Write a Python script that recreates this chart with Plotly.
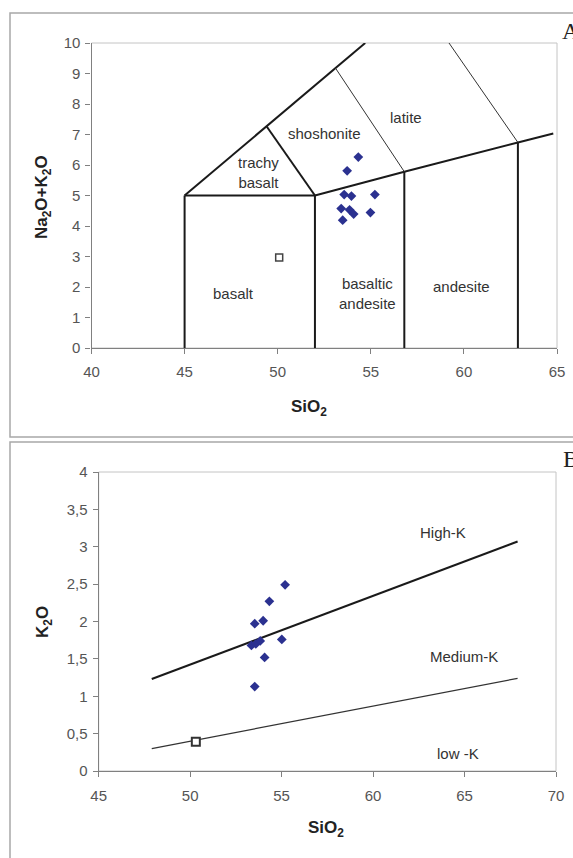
import plotly.graph_objects as go

W, H = 573, 858

# ---------------- Panel A: TAS diagram ----------------
tas_sio2 = [54.33, 53.73, 53.57, 53.96, 55.22, 53.41, 53.86, 54.08, 54.98, 53.49]
tas_alk = [6.26, 5.81, 5.03, 4.98, 5.03, 4.57, 4.53, 4.39, 4.44, 4.19]
tas_ref_sio2 = [50.08]
tas_ref_alk = [2.97]

# thick boundary segments (None separates segments)
tas_thick_x = [45, 45, None, 45, 52, None, 52, 52, None, 56.8, 56.8, None, 62.9, 62.9, None,
               52, 56.8, 62.9, 64.8, None, 45, 49.4, 53.1, 54.7, None, 49.4, 52]
tas_thick_y = [0, 5, None, 5, 5, None, 0, 5, None, 0, 5.78, None, 0, 6.74, None,
               5, 5.78, 6.74, 7.03, None, 5, 7.27, 9.18, 10, None, 7.27, 5]
# thin boundary segments
tas_thin_x = [53.1, 56.8, None, 59.2, 62.9]
tas_thin_y = [9.18, 5.78, None, 10, 6.74]

tas_labels = ["shoshonite", "latite", "trachy<br>basalt", "basalt", "basaltic<br>andesite", "andesite"]
tas_label_x = [52.5, 56.9, 48.95, 47.6, 54.8, 59.85]
tas_label_y = [7.03, 7.56, 5.75, 1.8, 1.8, 2.02]

tas_xticks = [40, 45, 50, 55, 60, 65]
tas_yticks = list(range(0, 11))

# ---------------- Panel B: K2O vs SiO2 ----------------
k_sio2 = [55.19, 54.33, 53.53, 53.99, 53.35, 53.59, 53.83, 55.01, 54.07, 53.53]
k_k2o = [2.49, 2.27, 1.97, 2.01, 1.68, 1.70, 1.74, 1.76, 1.52, 1.13]
k_ref_sio2 = [50.31]
k_ref_k2o = [0.39]

highk_x = [47.9, 67.9]
highk_y = [1.23, 3.07]
medk_x = [47.9, 67.9]
medk_y = [0.30, 1.24]

k_labels = ["High-K", "Medium-K", "low -K"]
k_label_x = [63.8, 64.95, 64.65]
k_label_y = [3.19, 1.53, 0.24]

k_xticks = [45, 50, 55, 60, 65, 70]
k_yticks = [0, 0.5, 1, 1.5, 2, 2.5, 3, 3.5, 4]
k_yticktext = ["0", "0,5", "1", "1,5", "2", "2,5", "3", "3,5", "4"]

BLUE = "#2b3190"
TICKC = "#555555"
AXC = "#808080"
FONT = "Liberation Sans, Arial, sans-serif"
SERIF = "Liberation Serif, Times New Roman, serif"


def px(x):
    return x / W


def py(y):
    return 1 - y / H


fig = go.Figure()

# Panel A traces
fig.add_trace(go.Scatter(x=tas_thick_x, y=tas_thick_y, mode="lines",
                         line=dict(color="#1a1a1a", width=2), xaxis="x", yaxis="y",
                         hoverinfo="skip", showlegend=False))
fig.add_trace(go.Scatter(x=tas_thin_x, y=tas_thin_y, mode="lines",
                         line=dict(color="#333333", width=1), xaxis="x", yaxis="y",
                         hoverinfo="skip", showlegend=False))
fig.add_trace(go.Scatter(x=tas_sio2, y=tas_alk, mode="markers",
                         marker=dict(symbol="diamond", size=7.5, color=BLUE),
                         xaxis="x", yaxis="y", showlegend=False))
fig.add_trace(go.Scatter(x=tas_ref_sio2, y=tas_ref_alk, mode="markers",
                         marker=dict(symbol="square", size=7, color="white",
                                     line=dict(color="#444444", width=1.5)),
                         xaxis="x", yaxis="y", showlegend=False))

# Panel B traces
fig.add_trace(go.Scatter(x=highk_x, y=highk_y, mode="lines",
                         line=dict(color="#1a1a1a", width=2), xaxis="x2", yaxis="y2",
                         hoverinfo="skip", showlegend=False))
fig.add_trace(go.Scatter(x=medk_x, y=medk_y, mode="lines",
                         line=dict(color="#333333", width=1.2), xaxis="x2", yaxis="y2",
                         hoverinfo="skip", showlegend=False))
fig.add_trace(go.Scatter(x=k_sio2, y=k_k2o, mode="markers",
                         marker=dict(symbol="diamond", size=7.5, color=BLUE),
                         xaxis="x2", yaxis="y2", showlegend=False))
fig.add_trace(go.Scatter(x=k_ref_sio2, y=k_ref_k2o, mode="markers",
                         marker=dict(symbol="square", size=8, color="white",
                                     line=dict(color="#333333", width=2)),
                         xaxis="x2", yaxis="y2", showlegend=False))

axis_common = dict(showgrid=False, zeroline=False, showline=True, linecolor=AXC, linewidth=1.3,
                   ticks="outside", ticklen=5, tickcolor=AXC, tickwidth=1, automargin=False,
                   tickfont=dict(family=FONT, size=15, color=TICKC))

annotations = []
for t, x, y in zip(tas_labels, tas_label_x, tas_label_y):
    annotations.append(dict(text=t, x=x, y=y, xref="x", yref="y", showarrow=False,
                            xanchor="center", yanchor="middle",
                            font=dict(family=FONT, size=15, color="#333333")))
for t, x, y in zip(k_labels, k_label_x, k_label_y):
    annotations.append(dict(text=t, x=x, y=y, xref="x2", yref="y2", showarrow=False,
                            xanchor="center", yanchor="middle",
                            font=dict(family=FONT, size=15, color="#333333")))

title_font = dict(family=FONT, size=17, color="#222222")
paper_texts = [
    ("<b>Na<sub>2</sub>O+K<sub>2</sub>O</b>", 43, 197, -90, "center", title_font),
    ("<b>SiO<sub>2</sub></b>", 309, 408, 0, "center", title_font),
    ("<b>K<sub>2</sub>O</b>", 44, 622, -90, "center", title_font),
    ("<b>SiO<sub>2</sub></b>", 326, 829, 0, "center", title_font),
    ("A", 560, 31, 0, "left", dict(family=SERIF, size=24, color="#222222")),
    ("B", 561, 459, 0, "left", dict(family=SERIF, size=24, color="#222222")),
]
for t, x, y, ang, xa, f in paper_texts:
    annotations.append(dict(text=t, x=px(x), y=py(y), xref="paper", yref="paper",
                            textangle=ang, showarrow=False, xanchor=xa, yanchor="middle",
                            font=f))

shapes = [
    dict(type="rect", xref="paper", yref="paper", x0=px(10), x1=1.1, y0=py(437), y1=py(13),
         line=dict(color="#a8a8a8", width=1.5), layer="below"),
    dict(type="rect", xref="paper", yref="paper", x0=px(10), x1=1.1, y0=-0.1, y1=py(442),
         line=dict(color="#a8a8a8", width=1.5), layer="below"),
    dict(type="rect", xref="x domain", yref="y domain", x0=0, x1=1, y0=0, y1=1,
         line=dict(color="#c4c4c4", width=1), layer="below"),
    dict(type="rect", xref="x2 domain", yref="y2 domain", x0=0, x1=1, y0=0, y1=1,
         line=dict(color="#c4c4c4", width=1), layer="below"),
]

fig.update_layout(
    template="none",
    width=W, height=H, margin=dict(l=0, r=0, t=0, b=0, pad=0, autoexpand=False),
    paper_bgcolor="white", plot_bgcolor="white", showlegend=False,
    xaxis=dict(axis_common, domain=[px(91.5), px(557)], range=[40, 65], tickvals=tas_xticks,
               anchor="y", ticklabelstandoff=5),
    yaxis=dict(axis_common, domain=[py(348), py(43)], range=[0, 10], tickvals=tas_yticks,
               anchor="x", ticklabelstandoff=2),
    xaxis2=dict(axis_common, domain=[px(98.7), px(556)], range=[45, 70], tickvals=k_xticks,
                anchor="y2", ticklabelstandoff=6),
    yaxis2=dict(axis_common, domain=[py(771), py(472)], range=[0, 4], tickvals=k_yticks,
                ticktext=k_yticktext, anchor="x2", ticklabelstandoff=2),
    annotations=annotations, shapes=shapes,
)

fig.write_html("out.html")
